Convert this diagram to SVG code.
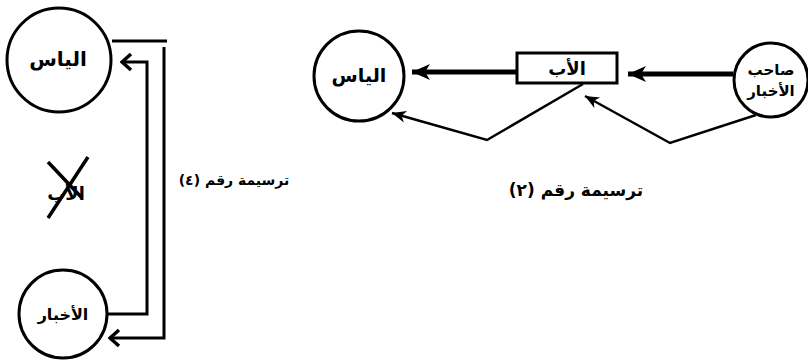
<svg xmlns="http://www.w3.org/2000/svg" width="808" height="362" viewBox="0 0 808 362">
  <style>
    .node { fill: #fff; stroke: #000; stroke-width: 3; }
    .lbl { font-family: "DejaVu Sans", "Noto Sans", sans-serif; font-weight: bold; fill: #000; text-anchor: middle; }
    .wire { fill: none; stroke: #000; stroke-width: 3; }
    .thick { fill: none; stroke: #000; stroke-width: 5; }
    .thin { fill: none; stroke: #000; stroke-width: 2.5; stroke-linejoin: miter; }
    .cap { font-family: "DejaVu Sans", "Noto Sans", sans-serif; font-weight: bold; fill: #000; text-anchor: middle; }
  </style>
  <defs>
    <marker id="chev" viewBox="-12 -10 14 20" refX="0" refY="0" markerWidth="14" markerHeight="20" markerUnits="userSpaceOnUse" orient="auto">
      <path d="M-9,-8 L0,0 L-9,8" fill="none" stroke="#000" stroke-width="3.5"/>
    </marker>
    <marker id="barb" viewBox="-2 -8 20 16" refX="14" refY="0" markerWidth="20" markerHeight="16" markerUnits="userSpaceOnUse" orient="auto">
      <path d="M0,-6 L14,0 L0,6 L4,0 Z" fill="#000"/>
    </marker>
    <marker id="barbBig" viewBox="-2 -10 24 20" refX="18" refY="0" markerWidth="24" markerHeight="20" markerUnits="userSpaceOnUse" orient="auto">
      <path d="M0,-8 L18,0 L0,8 L5,0 Z" fill="#000"/>
    </marker>
  </defs>

  <!-- connectors -->
  <g id="connectors">
    <!-- left scheme: outer loop down, inner loop up -->
    <path class="wire" d="M112,41 H167"/>
    <path class="wire" d="M164,47 V338 H110" marker-end="url(#chev)"/>
    <path class="wire" d="M107,314 H147 V62 H122" marker-end="url(#chev)"/>
    <!-- right scheme -->
    <path class="thick" d="M733,74 H628" marker-end="url(#barbBig)"/>
    <path class="thick" d="M517,72 H412" marker-end="url(#barbBig)"/>
    <path class="thin" d="M756,115 L670,143 L585,96" marker-end="url(#barb)"/>
    <path class="thin" d="M583,84 L487,140 L392,113" marker-end="url(#barb)"/>
  </g>

  <!-- left scheme nodes -->
  <g id="n-elias-left">
    <circle class="node" cx="59" cy="60" r="52"/>
    <text class="lbl" x="58" y="66" font-size="20">الياس</text>
  </g>
  <g id="n-akhbar-left">
    <circle class="node" cx="63" cy="314" r="44"/>
    <text class="lbl" x="63" y="320" font-size="16">الأخبار</text>
  </g>
  <g id="n-father-crossed">
    <text class="lbl" x="66" y="200" font-size="18">الأب</text>
    <path d="M48,162 L82,198 M88,157 L48,218" fill="none" stroke="#000" stroke-width="3.5"/>
  </g>
  <text class="cap" x="234" y="185" font-size="14">ترسيمة رقم (٤)</text>

  <!-- right scheme nodes -->
  <g id="n-elias-right">
    <circle class="node" cx="359" cy="76" r="45"/>
    <text class="lbl" x="359" y="82" font-size="19">الياس</text>
  </g>
  <g id="n-father">
    <rect class="node" x="517" y="53" width="100" height="30"/>
    <text class="lbl" x="567" y="75" font-size="18">الأب</text>
  </g>
  <g id="n-source">
    <circle class="node" cx="771" cy="80" r="37"/>
    <text class="lbl" x="771" y="75" font-size="15">صاحب</text>
    <text class="lbl" x="771" y="96" font-size="15">الأخبار</text>
  </g>
  <text class="cap" x="576" y="196" font-size="17">ترسيمة رقم (٢)</text>
</svg>
